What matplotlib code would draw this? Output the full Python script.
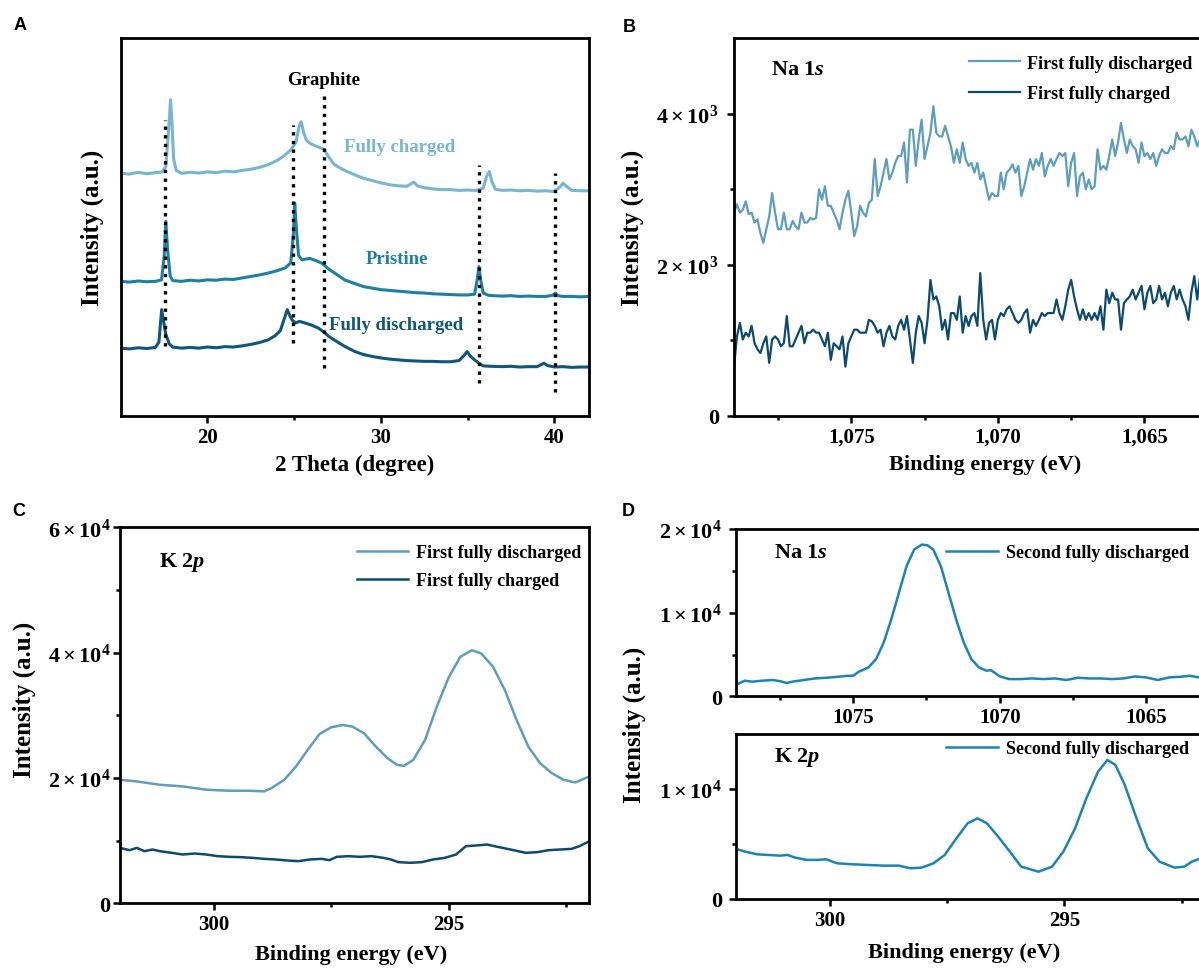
import matplotlib.pyplot as plt
from matplotlib.ticker import FixedLocator, FixedFormatter

# ---- A: XRD patterns (arbitrary intensity, stacked) ----
theta_charged = [15.0, 15.5, 16.0, 16.5, 17.0, 17.4, 17.6, 17.75, 17.87, 17.95, 18.05, 18.2, 18.5, 19.0,
                 19.5, 20.0, 20.5, 21.0, 21.5, 22.0, 22.5, 23.0, 23.5, 24.0, 24.4, 24.8, 25.1, 25.3, 25.4,
                 25.55, 25.7, 25.9, 26.2, 26.5, 26.7, 27.0, 27.3, 27.7, 28.0, 28.5, 29.0, 29.5, 30.0, 30.5,
                 31.0, 31.5, 31.9, 32.1, 32.5, 33.0, 33.5, 34.0, 34.5, 35.0, 35.5, 35.9, 36.1, 36.25, 36.4,
                 36.6, 37.0, 37.5, 38.0, 38.5, 39.0, 39.5, 40.0, 40.3, 40.5, 40.7, 41.0, 41.5, 42.0]
int_charged = [64.3, 64.0, 64.5, 64.1, 64.4, 64.6, 66.0, 75.0, 83.7, 78.0, 68.0, 65.0, 64.2, 64.5,
               64.3, 64.6, 64.4, 64.8, 64.6, 65.0, 65.3, 65.8, 66.5, 67.6, 68.8, 70.4, 72.5, 77.0, 77.9,
               75.0, 73.0, 72.2, 71.5, 71.0, 70.6, 68.5, 66.6, 65.5, 64.8, 63.8, 62.9, 62.3, 61.7, 61.2,
               60.9, 60.8, 61.9, 60.9, 60.4, 60.1, 59.9, 59.9, 59.7, 59.8, 59.7, 60.3, 63.5, 64.7, 62.0,
               60.0, 59.7, 59.8, 59.6, 59.7, 59.5, 59.6, 59.4, 60.5, 61.6, 60.8, 59.7, 59.6, 59.6]

theta_pristine = [15.0, 15.5, 16.0, 16.5, 17.0, 17.35, 17.5, 17.6, 17.7, 17.85, 18.0, 18.5, 19.0, 19.5,
                  20.0, 20.5, 21.0, 21.5, 22.0, 22.5, 23.0, 23.5, 24.0, 24.5, 24.8, 24.95, 25.03, 25.12,
                  25.25, 25.45, 25.9, 26.3, 26.6, 27.0, 27.4, 27.9, 28.5, 29.0, 29.5, 30.0, 30.5, 31.0,
                  31.5, 32.0, 32.5, 33.0, 33.5, 34.0, 34.5, 35.0, 35.4, 35.55, 35.65, 35.75, 35.9, 36.2,
                  36.5, 37.0, 37.5, 38.0, 38.5, 39.0, 39.5, 39.9, 40.05, 40.2, 40.5, 41.0, 41.5, 42.0]
int_pristine = [35.6, 35.4, 35.7, 35.5, 35.6, 36.0, 42.0, 51.5, 44.0, 37.0, 35.8, 35.6, 35.9, 35.7,
                36.0, 35.9, 36.2, 36.1, 36.5, 36.9, 37.3, 37.8, 38.4, 39.2, 40.5, 48.0, 56.3, 50.0,
                42.5, 41.3, 41.7, 41.0, 40.4, 38.8, 37.6, 36.0, 35.0, 34.2, 33.8, 33.4, 33.2, 33.0,
                32.8, 32.6, 32.5, 32.3, 32.2, 32.1, 32.0, 32.0, 32.2, 36.0, 39.5, 36.0, 32.5, 31.9,
                31.8, 31.7, 31.8, 31.6, 31.7, 31.6, 31.6, 31.9, 32.5, 31.8, 31.6, 31.6, 31.5, 31.6]

theta_discharged = [15.0, 15.5, 16.0, 16.5, 17.0, 17.2, 17.3, 17.36, 17.45, 17.6, 17.8, 18.0, 18.5, 19.0,
                    19.5, 20.0, 20.5, 21.0, 21.5, 22.0, 22.5, 23.0, 23.5, 23.9, 24.2, 24.45, 24.6, 24.75,
                    24.9, 25.1, 25.3, 25.6, 26.0, 26.4, 26.7, 27.0, 27.4, 27.9, 28.5, 29.0, 29.5, 30.0,
                    30.5, 31.0, 31.5, 32.0, 32.5, 33.0, 33.5, 34.0, 34.5, 34.8, 34.97, 35.15, 35.4, 35.65,
                    35.9, 36.3, 37.0, 37.5, 38.0, 38.5, 39.0, 39.4, 39.6, 40.0, 40.5, 41.0, 41.5, 42.0]
int_discharged = [17.9, 17.7, 18.0, 17.8, 18.1, 19.5, 25.0, 28.1, 25.5, 21.5, 19.0, 18.2, 17.9, 18.1,
                  17.9, 18.2, 18.0, 18.3, 18.2, 18.5, 18.9, 19.4, 20.1, 21.2, 22.5, 26.0, 28.1, 26.5,
                  25.2, 24.6, 25.0, 24.6, 24.0, 23.2, 22.2, 21.0, 19.8, 18.4, 17.0, 16.2, 15.7, 15.3,
                  15.0, 14.8, 14.6, 14.5, 14.4, 14.4, 14.3, 14.3, 14.6, 16.0, 17.0, 15.8, 14.8, 13.9,
                  13.2, 13.1, 13.0, 13.1, 12.9, 13.0, 13.0, 13.9, 13.3, 12.9, 13.0, 12.8, 12.9, 12.9]

ref_pos = [17.55, 24.95, 26.7, 35.65, 40.05]
ref_top = [78.4, 77.0, 84.6, 66.5, 64.3]
ref_bot = [18.4, 19.2, 12.6, 8.6, 6.4]

# ---- B: Na 1s, first cycle ----
energy_b = [1079.0, 1078.9, 1078.8, 1078.7, 1078.6, 1078.5, 1078.4, 1078.3, 1078.2, 1078.1,
            1078.0, 1077.9, 1077.8, 1077.7, 1077.6, 1077.5, 1077.4, 1077.3, 1077.2, 1077.1,
            1077.0, 1076.9, 1076.8, 1076.7, 1076.6, 1076.5, 1076.4, 1076.3, 1076.2, 1076.1,
            1076.0, 1075.9, 1075.8, 1075.7, 1075.6, 1075.5, 1075.4, 1075.3, 1075.2, 1075.1,
            1075.0, 1074.9, 1074.8, 1074.7, 1074.6, 1074.5, 1074.4, 1074.3, 1074.2, 1074.1,
            1074.0, 1073.9, 1073.8, 1073.7, 1073.6, 1073.5, 1073.4, 1073.3, 1073.2, 1073.1,
            1073.0, 1072.9, 1072.8, 1072.7, 1072.6, 1072.5, 1072.4, 1072.3, 1072.2, 1072.1,
            1072.0, 1071.9, 1071.8, 1071.7, 1071.6, 1071.5, 1071.4, 1071.3, 1071.2, 1071.1,
            1071.0, 1070.9, 1070.8, 1070.7, 1070.6, 1070.5, 1070.4, 1070.3, 1070.2, 1070.1,
            1070.0, 1069.9, 1069.8, 1069.7, 1069.6, 1069.5, 1069.4, 1069.3, 1069.2, 1069.1,
            1069.0, 1068.9, 1068.8, 1068.7, 1068.6, 1068.5, 1068.4, 1068.3, 1068.2, 1068.1,
            1068.0, 1067.9, 1067.8, 1067.7, 1067.6, 1067.5, 1067.4, 1067.3, 1067.2, 1067.1,
            1067.0, 1066.9, 1066.8, 1066.7, 1066.6, 1066.5, 1066.4, 1066.3, 1066.2, 1066.1,
            1066.0, 1065.9, 1065.8, 1065.7, 1065.6, 1065.5, 1065.4, 1065.3, 1065.2, 1065.1,
            1065.0, 1064.9, 1064.8, 1064.7, 1064.6, 1064.5, 1064.4, 1064.3, 1064.2, 1064.1,
            1064.0, 1063.9, 1063.8, 1063.7, 1063.6, 1063.5, 1063.4, 1063.3, 1063.2, 1063.1]
na_first_discharged = [2690, 2800, 2690, 2730, 2840, 2670, 2690, 2560, 2600, 2420,
                       2290, 2470, 2640, 2950, 2690, 2470, 2470, 2690, 2470, 2470,
                       2580, 2510, 2470, 2690, 2560, 2560, 2620, 2600, 2620, 3000,
                       2860, 3040, 2780, 2780, 2690, 2600, 2470, 2690, 2860, 2980,
                       2690, 2380, 2510, 2780, 2690, 2640, 2820, 2860, 3400, 2910,
                       3040, 3220, 3400, 3130, 3220, 3350, 3440, 3440, 3620, 3090,
                       3790, 3790, 3310, 3660, 3920, 3400, 3570, 3750, 4100, 3750,
                       3700, 3700, 3840, 3700, 3570, 3350, 3530, 3350, 3620, 3400,
                       3310, 3350, 3220, 3350, 3130, 3220, 3040, 2860, 2950, 2910,
                       2910, 3220, 3000, 3220, 3260, 3330, 3220, 3310, 2910, 3040,
                       3220, 3400, 3260, 3400, 3310, 3480, 3170, 3310, 3400, 3310,
                       3400, 3480, 3440, 3480, 3040, 3350, 3480, 2910, 3170, 3220,
                       3000, 3130, 3000, 3040, 3530, 3260, 3310, 3260, 3440, 3660,
                       3440, 3620, 3880, 3660, 3480, 3660, 3570, 3530, 3350, 3620,
                       3440, 3480, 3400, 3480, 3310, 3440, 3530, 3480, 3480, 3570,
                       3530, 3750, 3660, 3660, 3700, 3570, 3790, 3700, 3570, 3660]
na_first_charged = [650, 1050, 1230, 1010, 1100, 1050, 1190, 960, 880, 830,
                    960, 1050, 700, 1010, 1050, 1010, 920, 960, 1320, 920,
                    920, 1010, 1100, 1190, 960, 1100, 1100, 1140, 1100, 1100,
                    1010, 920, 1100, 740, 960, 920, 880, 1050, 650, 960,
                    1050, 1140, 1140, 1100, 1100, 1100, 1270, 1250, 1190, 1100,
                    1140, 920, 1100, 1190, 1050, 1010, 1190, 1270, 1140, 1320,
                    1010, 700, 1100, 1320, 1230, 960, 1270, 1800, 1540, 1580,
                    1450, 1140, 1270, 1010, 1360, 1360, 1270, 1580, 1100, 1320,
                    1190, 1320, 1360, 1190, 1890, 1270, 1010, 1230, 1270, 1010,
                    1270, 1360, 1320, 1410, 1450, 1360, 1270, 1230, 1270, 1360,
                    1410, 1100, 1270, 1190, 1270, 1360, 1320, 1360, 1360, 1360,
                    1540, 1360, 1270, 1450, 1670, 1800, 1580, 1410, 1270, 1410,
                    1270, 1360, 1270, 1360, 1270, 1450, 1140, 1670, 1490, 1630,
                    1540, 1540, 1140, 1490, 1540, 1580, 1670, 1540, 1630, 1720,
                    1410, 1630, 1720, 1490, 1540, 1720, 1540, 1630, 1450, 1630,
                    1720, 1540, 1670, 1540, 1450, 1270, 1630, 1850, 1540, 1850]

# ---- C: K 2p, first cycle ----
energy_c1 = [302.0, 301.64, 301.15, 300.66, 300.16, 299.67, 299.26, 298.93, 298.77, 298.5, 298.25,
             298.0, 297.75, 297.5, 297.25, 297.05, 296.8, 296.55, 296.3, 296.1, 295.95, 295.75,
             295.5, 295.25, 295.0, 294.75, 294.5, 294.3, 294.05, 293.8, 293.55, 293.3, 293.05,
             292.8, 292.55, 292.3, 292.0]
k_first_discharged = [19720, 19450, 18920, 18660, 18130, 17970, 17970, 17860, 18390, 19720, 21840,
                      24500, 27000, 28100, 28460, 28200, 27140, 25020, 23160, 22100, 21940, 22900,
                      26080, 31380, 36000, 39330, 40390, 39860, 37740, 34030, 29260, 25020, 22370,
                      20780, 19720, 19290, 20250]
energy_c2 = [302.0, 301.8, 301.64, 301.48, 301.31, 301.15, 300.9, 300.66, 300.41, 300.16, 299.92,
             299.67, 299.43, 299.18, 298.93, 298.69, 298.44, 298.2, 297.95, 297.7, 297.54, 297.38,
             297.13, 296.89, 296.64, 296.39, 296.23, 296.07, 295.82, 295.57, 295.33, 295.08, 294.84,
             294.63, 294.43, 294.18, 294.02, 293.85, 293.61, 293.36, 293.11, 292.87, 292.62, 292.38,
             292.21, 292.0]
k_first_charged = [8850, 8480, 8850, 8320, 8590, 8320, 8060, 7790, 7950, 7790, 7530,
                   7420, 7370, 7260, 7100, 7000, 6840, 6730, 7000, 7100, 6890, 7420,
                   7530, 7420, 7530, 7260, 7000, 6570, 6470, 6570, 7000, 7260, 7790,
                   9120, 9220, 9380, 9120, 8850, 8480, 8060, 8160, 8480, 8590, 8690,
                   9120, 9910]

# ---- D: second fully discharged ----
energy_d_na = [1078.94, 1078.7, 1078.44, 1078.12, 1077.73, 1077.47, 1077.27, 1077.08, 1076.69, 1076.3,
               1075.91, 1075.52, 1075.19, 1075.0, 1074.81, 1074.48, 1074.22, 1073.96, 1073.7, 1073.44,
               1073.18, 1072.92, 1072.66, 1072.47, 1072.27, 1072.01, 1071.75, 1071.49, 1071.23, 1070.97,
               1070.71, 1070.45, 1070.32, 1070.19, 1070.0, 1069.68, 1069.29, 1068.9, 1068.51, 1068.12,
               1067.73, 1067.34, 1066.95, 1066.56, 1066.17, 1065.78, 1065.39, 1065.0, 1064.61, 1064.22,
               1063.83, 1063.51, 1063.21]
na_second = [1470, 1870, 1750, 1870, 1950, 1790, 1590, 1750, 1950, 2140,
             2220, 2340, 2460, 2460, 2940, 3450, 4450, 6430, 9210, 12390,
             15560, 17550, 18140, 18060, 17550, 15560, 12390, 9210, 6430, 4450,
             3450, 3060, 3140, 2860, 2380, 2060, 2060, 2140, 2060, 2140,
             1950, 2220, 2140, 2140, 2060, 2140, 2380, 2260, 1950, 2260,
             2340, 2460, 2260]
energy_d_k = [302.0, 301.8, 301.55, 301.31, 301.06, 300.9, 300.74, 300.49, 300.25, 300.08, 299.84,
              299.51, 299.18, 298.86, 298.53, 298.28, 298.04, 297.79, 297.55, 297.3, 297.06, 296.85,
              296.65, 296.41, 296.16, 295.92, 295.55, 295.26, 295.02, 294.77, 294.53, 294.28, 294.08,
              293.91, 293.71, 293.46, 293.22, 292.97, 292.65, 292.44, 292.28, 292.09]
k_second = [4550, 4300, 4060, 4000, 3940, 4000, 3760, 3550, 3550, 3610, 3240,
            3150, 3090, 3030, 3030, 2790, 2850, 3240, 4000, 5510, 6880, 7330,
            6880, 5670, 4300, 2940, 2480, 2940, 4300, 6420, 9150, 11570, 12640,
            12180, 10360, 7330, 4610, 3390, 2850, 2940, 3390, 3700]

c_light = '#76b5d3'
c_mid = '#1b7fa6'
c_dark = '#0e5680'
c_dis = '#5c9dc0'
c_chg = '#0c4a70'
c_sec = '#1a85b5'

plt.rcParams['font.family'] = ['Liberation Serif', 'DejaVu Serif']
plt.rcParams['font.weight'] = 'bold'
plt.rcParams['axes.labelweight'] = 'bold'
plt.rcParams['mathtext.fontset'] = 'custom'
plt.rcParams['mathtext.rm'] = 'Liberation Serif:bold'
plt.rcParams['mathtext.it'] = 'Liberation Serif:italic:bold'
plt.rcParams['mathtext.bf'] = 'Liberation Serif:bold'


def frame(ax, xmaj, xlab, xmin, ymaj, ylab, ymin, ypad):
    for s in ax.spines.values():
        s.set_linewidth(2)
    ax.xaxis.set_major_locator(FixedLocator(xmaj))
    ax.xaxis.set_major_formatter(FixedFormatter(xlab))
    ax.xaxis.set_minor_locator(FixedLocator(xmin))
    ax.yaxis.set_major_locator(FixedLocator(ymaj))
    ax.yaxis.set_major_formatter(FixedFormatter(ylab))
    ax.yaxis.set_minor_locator(FixedLocator(ymin))
    ax.tick_params(which='major', direction='out', length=5, width=1.8)
    ax.tick_params(which='minor', direction='out', length=3, width=1.8)
    ax.tick_params(axis='x', pad=3, labelsize=15)
    ax.tick_params(axis='y', pad=ypad, labelsize=16)


fig = plt.figure(figsize=(11.99, 9.70), dpi=100)

leg_kw = dict(frameon=False, fontsize=13, handletextpad=0.4, borderpad=0, borderaxespad=0)

# A
axA = fig.add_axes([0.1007, 0.5704, 0.3906, 0.3891])
axA.plot(theta_charged, int_charged, color=c_light, lw=2.2)
axA.plot(theta_pristine, int_pristine, color=c_mid, lw=2.2)
axA.plot(theta_discharged, int_discharged, color=c_dark, lw=2.2)
axA.vlines(ref_pos, ref_bot, ref_top, colors='black', lw=2.4, linestyles=(0, (1, 1.6)))
axA.set_xlim(15, 42)
axA.set_ylim(0, 100)
frame(axA, [20, 30, 40], ['20', '30', '40'], [25, 35], [], [], [], 4)
axA.text(26.7, 89.0, 'Graphite', ha='center', va='center', fontsize=13.5)
axA.text(31.1, 71.3, 'Fully charged', ha='center', va='center', fontsize=13.5, color=c_light)
axA.text(30.9, 41.7, 'Pristine', ha='center', va='center', fontsize=13.5, color=c_mid)
axA.text(30.9, 24.1, 'Fully discharged', ha='center', va='center', fontsize=13.5, color=c_dark)

# B
axB = fig.add_axes([0.6122, 0.5704, 0.3912, 0.3891])
axB.plot(energy_b, na_first_discharged, color=c_dis, lw=1.6, label='First fully discharged')
axB.plot(energy_b, na_first_charged, color=c_chg, lw=1.6, label='First fully charged')
axB.set_xlim(1079, 1063)
axB.set_ylim(0, 5000)
frame(axB, [1075, 1070, 1065], ['1,075', '1,070', '1,065'], [1077.5, 1072.5, 1067.5],
      [0, 2000, 4000], ['0', r'$2\times10^{3}$', r'$4\times10^{3}$'], [1000, 3000], 6)
axB.text(0.079, 0.919, r'Na 1$\mathit{s}$', transform=axB.transAxes, va='center', fontsize=16)
axB.legend(loc='upper left', bbox_to_anchor=(0.501, 0.957), handlelength=2.8, labelspacing=0.75, **leg_kw)

# C
axC = fig.add_axes([0.1001, 0.0677, 0.3914, 0.3876])
axC.plot(energy_c1, k_first_discharged, color=c_dis, lw=1.8, label='First fully discharged')
axC.plot(energy_c2, k_first_charged, color=c_chg, lw=1.8, label='First fully charged')
axC.set_xlim(302, 292)
axC.set_ylim(0, 60000)
frame(axC, [300, 295], ['300', '295'], [297.5, 292.5],
      [0, 20000, 40000, 60000], ['0', r'$2\times10^{4}$', r'$4\times10^{4}$', r'$6\times10^{4}$'],
      [10000, 30000, 50000], 2)
axC.text(0.083, 0.910, r'K 2$\mathit{p}$', transform=axC.transAxes, va='center', fontsize=16)
axC.legend(loc='upper left', bbox_to_anchor=(0.505, 0.955), handlelength=2.85, labelspacing=0.62, **leg_kw)

# D (top: Na 1s, bottom: K 2p)
axD1 = fig.add_axes([0.6138, 0.2811, 0.3912, 0.1725])
axD1.plot(energy_d_na, na_second, color=c_sec, lw=1.8, label='Second fully discharged')
axD1.set_xlim(1079, 1063)
axD1.set_ylim(0, 20000)
frame(axD1, [1075, 1070, 1065], ['1075', '1070', '1065'], [1077.5, 1072.5, 1067.5],
      [0, 10000, 20000], ['0', r'$1\times10^{4}$', r'$2\times10^{4}$'], [5000, 15000], 5)
axD1.text(0.081, 0.862, r'Na 1$\mathit{s}$', transform=axD1.transAxes, va='center', fontsize=16)
axD1.legend(loc='upper left', bbox_to_anchor=(0.448, 0.911), handlelength=2.9, **leg_kw)

axD2 = fig.add_axes([0.6138, 0.0722, 0.3912, 0.1701])
axD2.plot(energy_d_k, k_second, color=c_sec, lw=1.8, label='Second fully discharged')
axD2.set_xlim(302, 292)
axD2.set_ylim(0, 15000)
frame(axD2, [300, 295], ['300', '295'], [297.5, 292.5],
      [0, 10000], ['0', r'$1\times10^{4}$'], [5000], 5)
axD2.text(0.081, 0.861, r'K 2$\mathit{p}$', transform=axD2.transAxes, va='center', fontsize=16)
axD2.legend(loc='upper left', bbox_to_anchor=(0.448, 0.961), handlelength=2.9, **leg_kw)

# axis titles
for lx, ly in [(92, 228), (632, 228), (24, 700), (634, 725)]:
    fig.text(lx / 1199, 1 - ly / 970, 'Intensity (a.u.)', rotation=90, ha='center', va='center', fontsize=18)
fig.text(355 / 1199, 1 - 465 / 970, '2 Theta (degree)', ha='center', va='center', fontsize=16.5)
fig.text(985 / 1199, 1 - 465 / 970, 'Binding energy (eV)', ha='center', va='center', fontsize=16)
fig.text(351 / 1199, 1 - 955 / 970, 'Binding energy (eV)', ha='center', va='center', fontsize=16)
fig.text(964 / 1199, 1 - 953 / 970, 'Binding energy (eV)', ha='center', va='center', fontsize=16)

# panel letters
for lx, ly, letter in [(20, 26, 'A'), (629, 27, 'B'), (19, 511, 'C'), (628, 512, 'D')]:
    fig.text(lx / 1199, 1 - ly / 970, letter, ha='center', va='center', fontsize=13,
             family='Liberation Sans', weight='bold')

fig.savefig('out.png', dpi=100)
